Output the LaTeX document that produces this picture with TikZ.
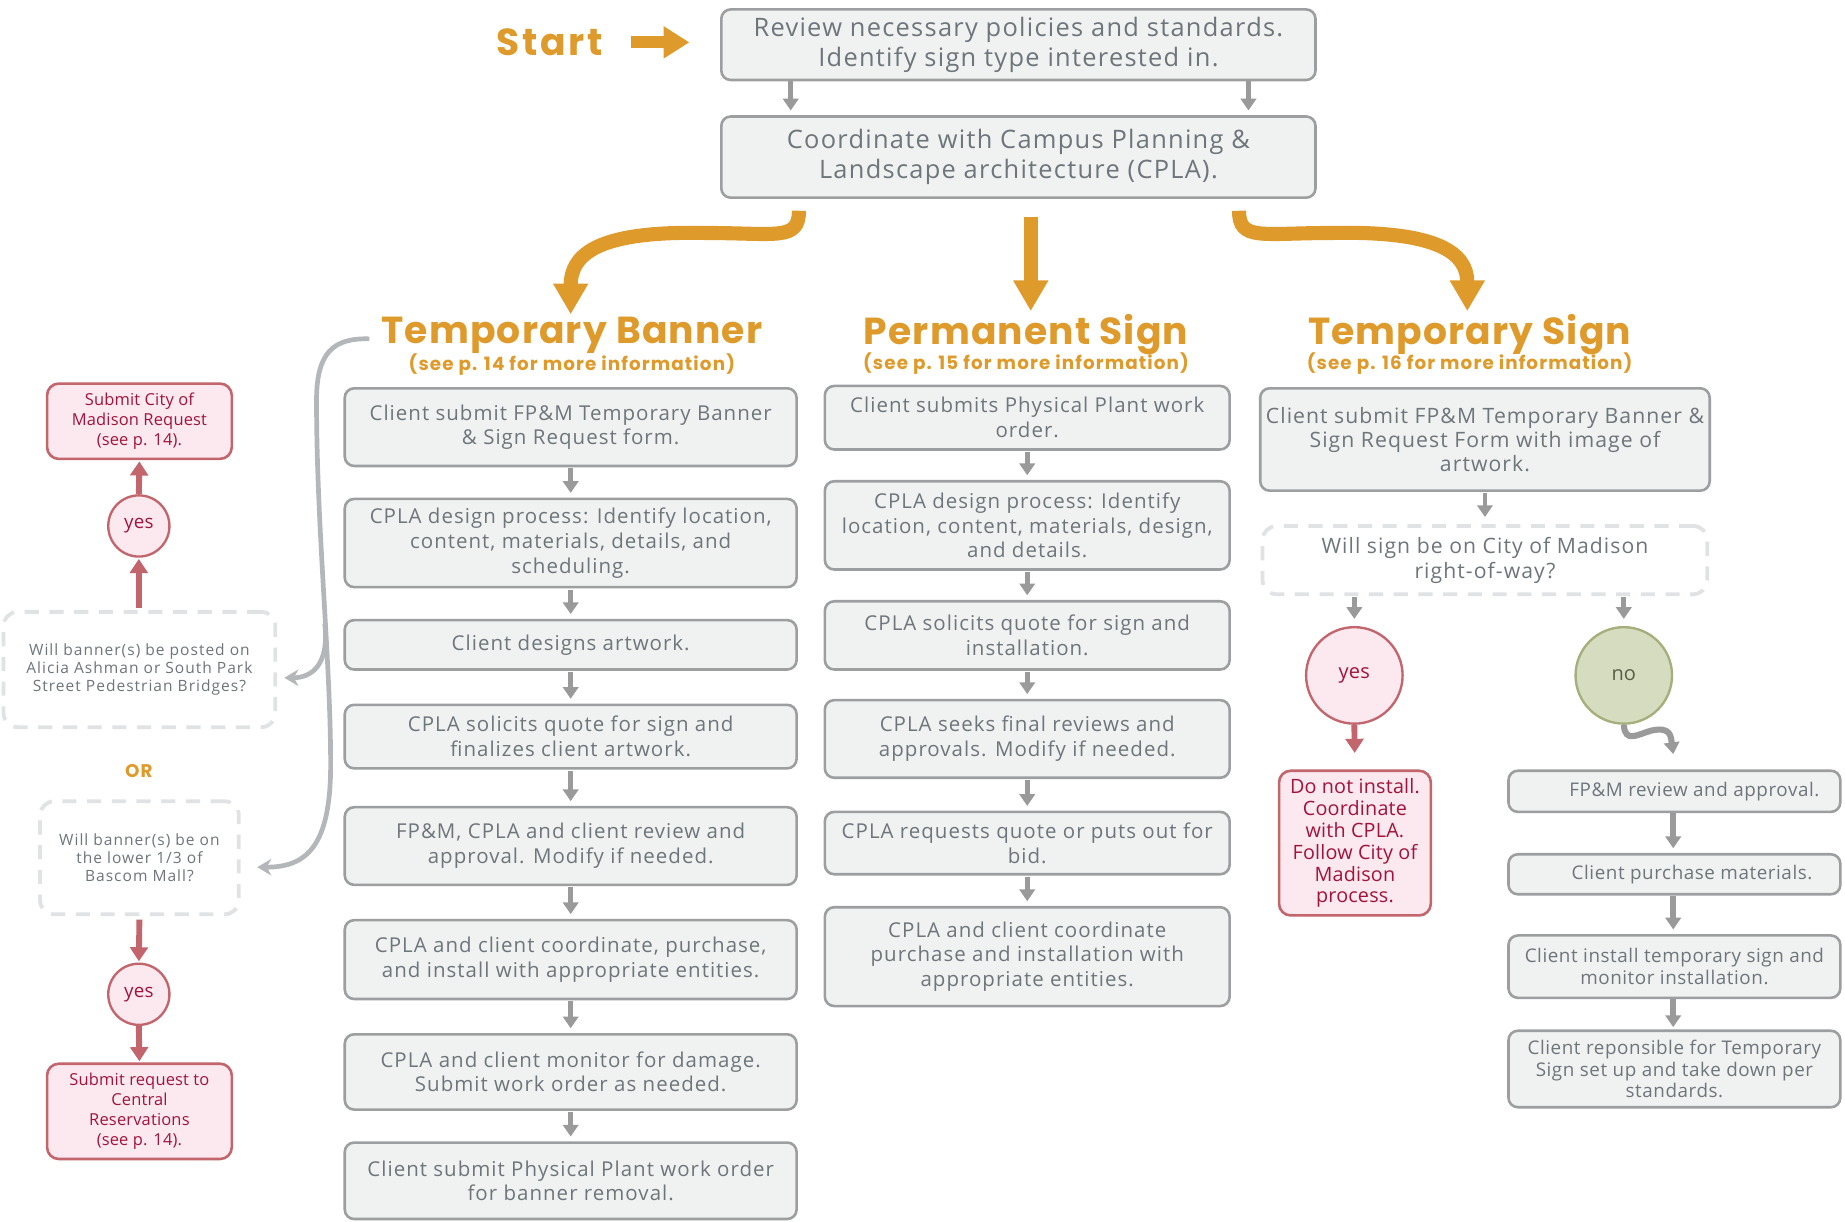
\documentclass[tikz,border=0pt]{standalone}
\usepackage{fontspec}
\setmainfont{Open Sans}[LetterSpace=5]
\newfontfamily\plainfont{Open Sans}[LetterSpace=1]
\newfontfamily\widefont{Open Sans}[LetterSpace=6.5]
\newfontfamily\gfont{Open Sans}[LetterSpace=3]
\newfontfamily\headfont{Poppins}[LetterSpace=3]
\newfontfamily\subfont{Poppins}[LetterSpace=6]
\newfontfamily\startfont{Poppins}[LetterSpace=7]
\usetikzlibrary{arrows.meta,calc}
\definecolor{boxfill}{HTML}{F0F2F1}
\definecolor{boxline}{HTML}{9C9EA0}
\definecolor{txtgray}{HTML}{6E757B}
\definecolor{orng}{HTML}{DE9A2A}
\definecolor{redline}{HTML}{C2656C}
\definecolor{redfill}{HTML}{FCE9F0}
\definecolor{redtxt}{HTML}{A0143C}
\definecolor{grnfill}{HTML}{D5DCC0}
\definecolor{grnline}{HTML}{A6AE7C}
\definecolor{grntxt}{HTML}{5A5E48}
\definecolor{dashline}{HTML}{E1E2E4}
\definecolor{arrgray}{HTML}{9A9A9A}
\definecolor{bracegray}{HTML}{B4B7BA}
\tikzset{
  box/.style={draw=boxline, fill=boxfill, line width=1.1pt, rounded corners=4pt, align=center, text=txtgray, inner sep=1pt, font=\fontsize{8.7}{10.5}\selectfont},
  bigbox/.style={box, font=\fontsize{10.8}{13}\selectfont},
  sbox/.style={box, font=\gfont\fontsize{8}{9.2}\selectfont},
  qbox/.style={draw=dashline, line width=1.6pt, dash pattern=on 6pt off 4.5pt, rounded corners=6pt, align=center, text=txtgray, inner sep=1pt},
  redbox/.style={draw=redline, fill=redfill, line width=1.1pt, rounded corners=5pt, align=center, text=redtxt, inner sep=1pt},
  yescirc/.style={circle, draw=redline, fill=redfill, line width=1pt, text=redtxt, inner sep=0pt},
  nocirc/.style={circle, draw=grnline, fill=grnfill, line width=1pt, text=grntxt, inner sep=0pt},
  garrow/.style={draw=arrgray, line width=2pt, -{Triangle[width=6.5pt,length=5pt]}},
  rarrow/.style={draw=redline, line width=2.5pt, -{Triangle[width=7.5pt,length=6pt]}},
  oarrow/.style={draw=orng, line width=6pt, -{Triangle[width=14pt,length=13pt]}},
  bracearrow/.style={draw=bracegray, line width=2pt, -{Stealth[width=7pt,length=6pt]}},
  hdr/.style={text=orng, inner sep=1pt, font=\headfont\bfseries\fontsize{16}{18}\selectfont},
  subhdr/.style={text=orng, inner sep=1pt, font=\subfont\bfseries\fontsize{7.8}{9}\selectfont},
}
\begin{document}
\begin{tikzpicture}[x=0.5pt,y=-0.5pt]
\fill[white] (0,0) rectangle (1568,1038);
\useasboundingbox (0,0) rectangle (1568,1038);

% top
\node[hdr, font=\startfont\bfseries\fontsize{16}{18}\selectfont] (start) at (467,36) {Start};
\node[bigbox, minimum width=252.5pt, minimum height=30pt] (T0) at (865.5,38) {Review necessary policies and standards.\\ Identify sign type interested in.};
\node[bigbox, minimum width=252.5pt, minimum height=34.5pt] (T1) at (865.5,133.5) {Coordinate with Campus Planning \&\\ Landscape architecture (CPLA).};
\draw[oarrow, line width=5pt, -{Triangle[width=13pt,length=11pt]}, shorten <=11pt, shorten >=13pt] (start.east) -- (start.east -| T0.west);
\draw[garrow, shorten >=2pt] ([xshift=-96.75pt]T0.south) -- ([xshift=-96.75pt]T1.north);
\draw[garrow, shorten >=2pt] ([xshift=97.75pt]T0.south) -- ([xshift=97.75pt]T1.north);

% headers
\node[hdr] (hTB) at (486,285) {Temporary Banner};
\node[subhdr] (sTB) at (486,310) {(see p. 14 for more information)};
\node[hdr] (hPS) at (872,284) {Permanent Sign};
\node[subhdr] (sPS) at (872,309) {(see p. 15 for more information)};
\node[hdr] (hTS) at (1249,284) {Temporary Sign};
\node[subhdr] (sTS) at (1249,309) {(see p. 16 for more information)};

% orange branch arrows
\draw[oarrow] ([xshift=-93.25pt,yshift=-5pt]T1.south) .. controls (679,205) and (660,198) .. (600,198) .. controls (510,196) and (485,215) .. (hTB.north -| 485,0);
\draw[oarrow] ([xshift=5.25pt,yshift=-7.5pt]T1.south) -- (hPS.north -| 876,0);
\draw[oarrow] ([xshift=93.75pt,yshift=-5pt]T1.south) .. controls (1053,205) and (1072,198) .. (1132,198) .. controls (1222,196) and (1247,215) .. (hTS.north -| 1247,0);

% Temporary Banner column
\node[box, minimum width=192pt, minimum height=33pt] (B1) at (485,363) {Client submit FP\&M Temporary Banner\\ \& Sign Request form.};
\node[box, minimum width=192pt, minimum height=37.5pt] (B2) at (485,461.5) {CPLA design process: Identify location,\\ content, materials, details, and\\ scheduling.};
\node[box, minimum width=192pt, minimum height=21pt] (B3) at (485,548) {Client designs artwork.};
\node[box, minimum width=192pt, minimum height=27pt] (B4) at (485,626) {CPLA solicits quote for sign and\\ finalizes client artwork.};
\node[box, minimum width=192pt, minimum height=33pt] (B5) at (485,719) {FP\&M, CPLA and client review and\\ approval. Modify if needed.};
\node[box, minimum width=192pt, minimum height=33.5pt] (B6) at (485,815.5) {CPLA and client coordinate, purchase,\\ and install with appropriate entities.};
\node[box, minimum width=192pt, minimum height=32pt] (B7) at (485,911) {CPLA and client monitor for damage.\\ Submit work order as needed.};
\node[box, minimum width=192pt, minimum height=32.5pt] (B8) at (485,1003.5) {Client submit Physical Plant work order\\ for banner removal.};
\foreach \a/\b in {B1/B2,B2/B3,B3/B4,B4/B5,B5/B6,B6/B7,B7/B8}
  \draw[garrow, shorten <=0.5pt, shorten >=2pt] (\a.south) -- (\b.north);

% Permanent Sign column
\node[box, minimum width=172pt, minimum height=27pt] (P1) at (873,355) {Client submits Physical Plant work\\ order.};
\node[box, minimum width=172pt, minimum height=37.5pt] (P2) at (873,446.5) {CPLA design process: Identify\\ location, content, materials, design,\\ and details.};
\node[box, minimum width=172pt, minimum height=29pt] (P3) at (873,540) {CPLA solicits quote for sign and\\ installation.};
\node[box, minimum width=172pt, minimum height=33pt] (P4) at (873,628) {CPLA seeks final reviews and\\ approvals. Modify if needed.};
\node[box, minimum width=172pt, minimum height=26.5pt] (P5) at (873,716.5) {CPLA requests quote or puts out for\\ bid.};
\node[box, minimum width=172pt, minimum height=42pt] (P6) at (873,813) {CPLA and client coordinate\\ purchase and installation with\\ appropriate entities.};
\foreach \a/\b in {P1/P2,P2/P3,P3/P4,P4/P5,P5/P6}
  \draw[garrow, shorten <=0.5pt, shorten >=2pt] (\a.south) -- (\b.north);

% Temporary Sign column
\node[box, font=\fontsize{9}{10.3}\selectfont, minimum width=191pt, minimum height=43.5pt] (S1) at (1262,373.5) {Client submit FP\&M Temporary Banner \&\\ Sign Request Form with image of\\ artwork.};
\node[qbox, font=\fontsize{9}{10.5}\selectfont, minimum width=189pt, minimum height=29pt] (SQ) at (1262,476) {Will sign be on City of Madison\\ right-of-way?};
\node[yescirc, minimum size=41pt, font=\plainfont\fontsize{8.5}{10}\selectfont] (Sy) at (1151,574) {yes};
\node[nocirc, minimum size=41pt, font=\plainfont\fontsize{8.5}{10}\selectfont] (Sn) at (1380,574) {no};
\node[redbox, font=\plainfont\fontsize{8.4}{9.3}\selectfont, minimum width=64.5pt, minimum height=61.5pt] (SR) at (1151.5,716.5) {Do not install.\\ Coordinate\\ with CPLA.\\ Follow City of\\ Madison\\ process.};
\node[sbox, minimum width=141pt, minimum height=17.5pt] (G1) at (1423,672.5) {\hspace*{17pt}FP\&M review and approval.};
\node[sbox, minimum width=141pt, minimum height=17pt] (G2) at (1423,743) {\hspace*{15pt}Client purchase materials.};
\node[sbox, minimum width=141pt, minimum height=26.5pt] (G3) at (1423,821.5) {Client install temporary sign and\\ monitor installation.};
\node[sbox, minimum width=141pt, minimum height=32.5pt] (G4) at (1423,908.5) {Client reponsible for Temporary\\ Sign set up and take down per\\ standards.};
\draw[garrow, shorten <=0.5pt, shorten >=3pt] (S1.south) -- (SQ.north);
\draw[garrow, shorten <=0.5pt, shorten >=3pt] (SQ.south -| Sy.north) -- (Sy.north);
\draw[garrow, shorten <=0.5pt, shorten >=3pt] (SQ.south -| Sn.north) -- (Sn.north);
\draw[rarrow, shorten >=7pt] (Sy.south) -- (SR.north);
\draw[garrow, line width=2.6pt] (Sn.south) .. controls (1381,632) and (1392,624) .. (1403,621) .. controls (1420,617) and (1420,626) .. ([xshift=-0.5pt,yshift=6.5pt]G1.north);
\draw[garrow, line width=2.5pt, shorten >=2pt] ([xshift=-0.5pt]G1.south) -- ([xshift=-0.5pt]G2.north);
\draw[garrow, line width=2.5pt, shorten >=2pt] ([xshift=-0.5pt]G2.south) -- ([xshift=-0.5pt]G3.north);
\draw[garrow, line width=2.5pt, shorten >=1pt] ([xshift=-0.5pt]G3.south) -- ([xshift=-0.5pt]G4.north);

% left side
\node[redbox, font=\plainfont\fontsize{7}{8.5}\selectfont, minimum width=78.5pt, minimum height=32pt] (LR1) at (118.5,358) {Submit City of\\ Madison Request\\ (see p. 14).};
\node[yescirc, minimum size=26pt, font=\plainfont\fontsize{8}{9}\selectfont] (Ly1) at (118,447) {yes};
\node[qbox, font=\widefont\fontsize{6.6}{7.8}\selectfont, minimum width=115.5pt, minimum height=49pt] (LQ1) at (118.5,569) {Will banner(s) be posted on\\ Alicia Ashman or South Park\\ Street Pedestrian Bridges?};
\node[text=orng, font=\subfont\bfseries\fontsize{7.8}{9}\selectfont] (OR) at (118,655) {OR};
\node[qbox, font=\widefont\fontsize{6.6}{7.7}\selectfont, minimum width=84.5pt, minimum height=48pt] (LQ2) at (118.5,729) {Will banner(s) be on\\ the lower 1/3 of\\ Bascom Mall?};
\node[yescirc, minimum size=26pt, font=\plainfont\fontsize{8}{9}\selectfont] (Ly2) at (118,845) {yes};
\node[redbox, font=\plainfont\fontsize{7}{8.5}\selectfont, minimum width=78.5pt, minimum height=40.5pt] (LR2) at (118.5,944.5) {Submit request to\\ Central\\ Reservations\\ (see p. 14).};
\draw[rarrow, shorten <=1pt, shorten >=0.5pt] (LQ1.north -| Ly1.south) -- (Ly1.south);
\draw[rarrow, shorten >=0.5pt] (Ly1.north) -- (LR1.south);
\draw[rarrow, shorten <=1.5pt, shorten >=0.5pt] (LQ2.south) -- (Ly2.north);
\draw[rarrow, shorten >=0.5pt] (Ly2.south) -- (LR2.north);

% grey brace to the two questions
\draw[bracearrow, shorten >=7pt] ([xshift=-4pt,yshift=-1.5pt]hTB.west) .. controls (283,287) and (269,300) .. (269,340) .. controls (269,450) and (281,560) .. (281,650) .. controls (281,720) and (260,737) .. ([yshift=-4pt]LQ2.east);
\draw[bracearrow, shorten >=3pt] (276,530) .. controls (280,565) and (265,576) .. ([yshift=-3.5pt]LQ1.east);
\end{tikzpicture}
\end{document}
